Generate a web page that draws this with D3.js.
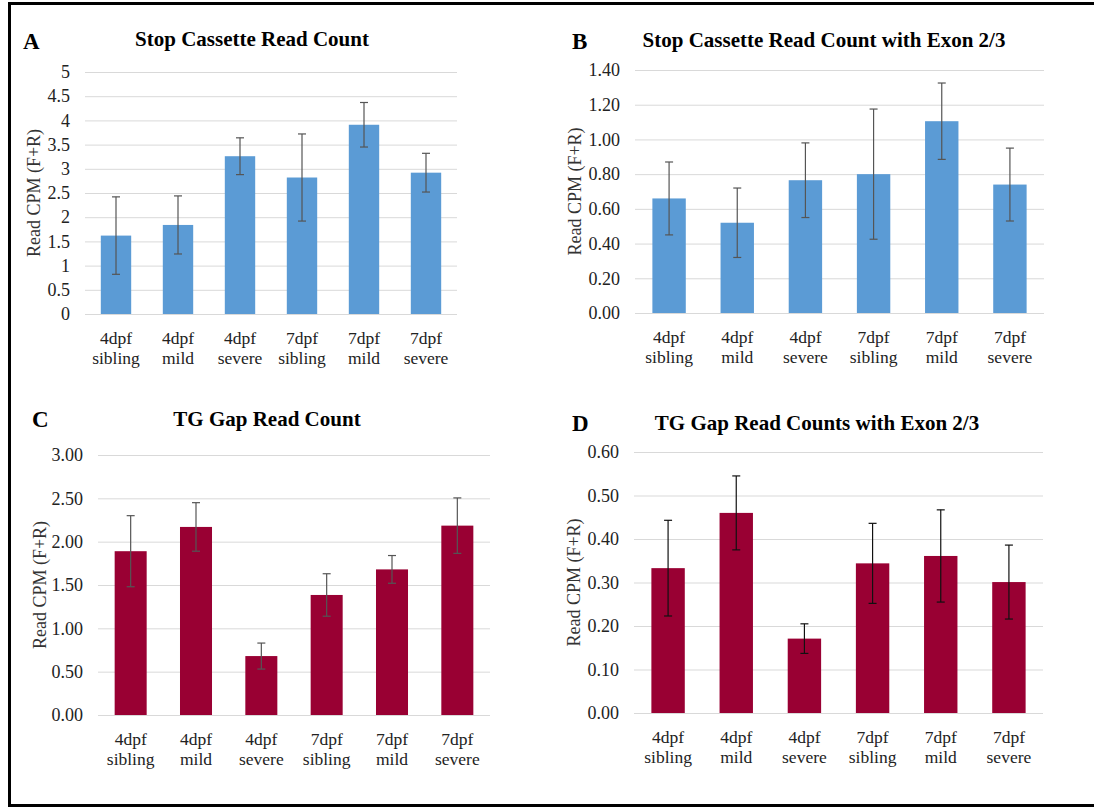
<!DOCTYPE html>
<html>
<head>
<meta charset="utf-8">
<script src="https://cdn.jsdelivr.net/npm/d3@7"></script>
<style>
  body { margin: 0; background: #fff; }
  text { font-family: "Liberation Serif", "Times New Roman", serif; }
</style>
</head>
<body>
<div id="chart"></div>
<script>
// categories shared by the four panels
var categories = [["4dpf", "sibling"], ["4dpf", "mild"], ["4dpf", "severe"],
                  ["7dpf", "sibling"], ["7dpf", "mild"], ["7dpf", "severe"]];

// A: Stop Cassette Read Count
var valuesA = [1.62, 1.84, 3.26, 2.82, 3.91, 2.92];
var errorsA = [0.80, 0.60, 0.38, 0.90, 0.46, 0.40];
var ticksA = [0, 0.5, 1, 1.5, 2, 2.5, 3, 3.5, 4, 4.5, 5];

// B: Stop Cassette Read Count with Exon 2/3
var valuesB = [0.66, 0.52, 0.765, 0.80, 1.105, 0.74];
var errorsB = [0.21, 0.20, 0.215, 0.375, 0.22, 0.21];
var ticksB = [0, 0.2, 0.4, 0.6, 0.8, 1.0, 1.2, 1.4];

// C: TG Gap Read Count
var valuesC = [1.89, 2.17, 0.68, 1.385, 1.68, 2.185];
var errorsC = [0.41, 0.28, 0.15, 0.245, 0.16, 0.32];
var ticksC = [0, 0.5, 1.0, 1.5, 2.0, 2.5, 3.0];

// D: TG Gap Read Counts with Exon 2/3
var valuesD = [0.333, 0.46, 0.171, 0.344, 0.361, 0.301];
var errorsD = [0.11, 0.085, 0.034, 0.092, 0.106, 0.085];
var ticksD = [0, 0.1, 0.2, 0.3, 0.4, 0.5, 0.6];

var blue = "#5b9bd5", red = "#990033";

var svg = d3.select("#chart")
  .append("svg")
  .attr("width", 1094)
  .attr("height", 809);

svg.append("rect").attr("width", 1094).attr("height", 809).attr("fill", "#fff");

// outer frame (right side is cut off in the original)
svg.append("rect")
  .attr("x", 9.5).attr("y", 3.5)
  .attr("width", 1100).attr("height", 802)
  .attr("fill", "none")
  .attr("stroke", "#000")
  .attr("stroke-width", 3);

drawPanel({
  letter: "A", title: "Stop Cassette Read Count",
  values: valuesA, errors: errorsA, ticks: ticksA, fmt: d3.format(""),
  left: 85, right: 457, top: 72, bottom: 314,
  titleX: 252, titleY: 46, letterX: 23, letterY: 49, labelX: 34,
  color: blue, errColor: "#555"
});

drawPanel({
  letter: "B", title: "Stop Cassette Read Count with Exon 2/3",
  values: valuesB, errors: errorsB, ticks: ticksB, fmt: d3.format(".2f"),
  left: 635, right: 1044, top: 70, bottom: 313,
  titleX: 824, titleY: 47, letterX: 572, letterY: 49, labelX: 575,
  color: blue, errColor: "#555"
});

drawPanel({
  letter: "C", title: "TG Gap Read Count",
  values: valuesC, errors: errorsC, ticks: ticksC, fmt: d3.format(".2f"),
  left: 98, right: 490, top: 455, bottom: 715,
  titleX: 267, titleY: 426, letterX: 32, letterY: 427, labelX: 40,
  color: red, errColor: "#555"
});

drawPanel({
  letter: "D", title: "TG Gap Read Counts with Exon 2/3",
  values: valuesD, errors: errorsD, ticks: ticksD, fmt: d3.format(".2f"),
  left: 634, right: 1043, top: 452, bottom: 713,
  titleX: 817, titleY: 430, letterX: 572, letterY: 431, labelX: 574,
  color: red, errColor: "#111"
});

function drawPanel(p) {
  var g = svg.append("g");

  var x = d3.scaleBand()
    .domain(d3.range(categories.length))
    .range([p.left, p.right])
    .paddingInner(0.51)
    .paddingOuter(0.255);

  var y = d3.scaleLinear()
    .domain([0, p.ticks[p.ticks.length - 1]])
    .range([p.bottom, p.top]);

  // gridlines + tick labels
  var yAxis = g.append("g")
    .attr("transform", "translate(" + p.left + ",0)")
    .call(d3.axisLeft(y)
      .tickValues(p.ticks)
      .tickFormat(p.fmt)
      .tickSize(-(p.right - p.left))
      .tickPadding(15));
  yAxis.select(".domain").remove();
  yAxis.selectAll(".tick line").attr("stroke", "#d9d9d9");
  yAxis.selectAll(".tick text")
    .attr("fill", "#222")
    .style("font-size", "18px")
    .style("font-family", "'Liberation Serif', serif");

  // bars
  g.selectAll(".bar")
    .data(p.values)
    .enter()
    .append("rect")
    .attr("x", function (d, i) { return x(i); })
    .attr("y", function (d) { return y(d); })
    .attr("width", x.bandwidth())
    .attr("height", function (d) { return y(0) - y(d); })
    .attr("fill", p.color);

  // error bars
  var eb = g.selectAll(".err")
    .data(p.values)
    .enter()
    .append("g")
    .attr("stroke", p.errColor)
    .attr("stroke-width", 1.2);
  var cx = function (i) { return x(i) + x.bandwidth() / 2; };
  eb.append("line")
    .attr("x1", function (d, i) { return cx(i); })
    .attr("x2", function (d, i) { return cx(i); })
    .attr("y1", function (d, i) { return y(d + p.errors[i]); })
    .attr("y2", function (d, i) { return y(d - p.errors[i]); });
  eb.append("line")
    .attr("x1", function (d, i) { return cx(i) - 4; })
    .attr("x2", function (d, i) { return cx(i) + 4; })
    .attr("y1", function (d, i) { return y(d + p.errors[i]); })
    .attr("y2", function (d, i) { return y(d + p.errors[i]); });
  eb.append("line")
    .attr("x1", function (d, i) { return cx(i) - 4; })
    .attr("x2", function (d, i) { return cx(i) + 4; })
    .attr("y1", function (d, i) { return y(d - p.errors[i]); })
    .attr("y2", function (d, i) { return y(d - p.errors[i]); });

  // category labels (two lines)
  var lab = g.selectAll(".cat")
    .data(categories)
    .enter()
    .append("text")
    .attr("text-anchor", "middle")
    .attr("fill", "#222")
    .style("font-size", "17.5px");
  lab.append("tspan")
    .attr("x", function (d, i) { return cx(i); })
    .attr("y", p.bottom + 30)
    .text(function (d) { return d[0]; });
  lab.append("tspan")
    .attr("x", function (d, i) { return cx(i); })
    .attr("y", p.bottom + 50)
    .text(function (d) { return d[1]; });

  // y axis label
  g.append("text")
    .attr("transform", "translate(" + p.labelX + "," + (p.top + p.bottom) / 2 + ") rotate(-90)")
    .attr("text-anchor", "middle")
    .attr("dy", "0.35em")
    .attr("fill", "#333")
    .style("font-size", "18px")
    .text("Read CPM (F+R)");

  // title and panel letter
  g.append("text")
    .attr("x", p.titleX).attr("y", p.titleY)
    .attr("text-anchor", "middle")
    .style("font-size", "21px")
    .style("font-weight", "bold")
    .text(p.title);
  g.append("text")
    .attr("x", p.letterX).attr("y", p.letterY)
    .style("font-size", "23px")
    .style("font-weight", "bold")
    .text(p.letter);
}
</script>
</body>
</html>
